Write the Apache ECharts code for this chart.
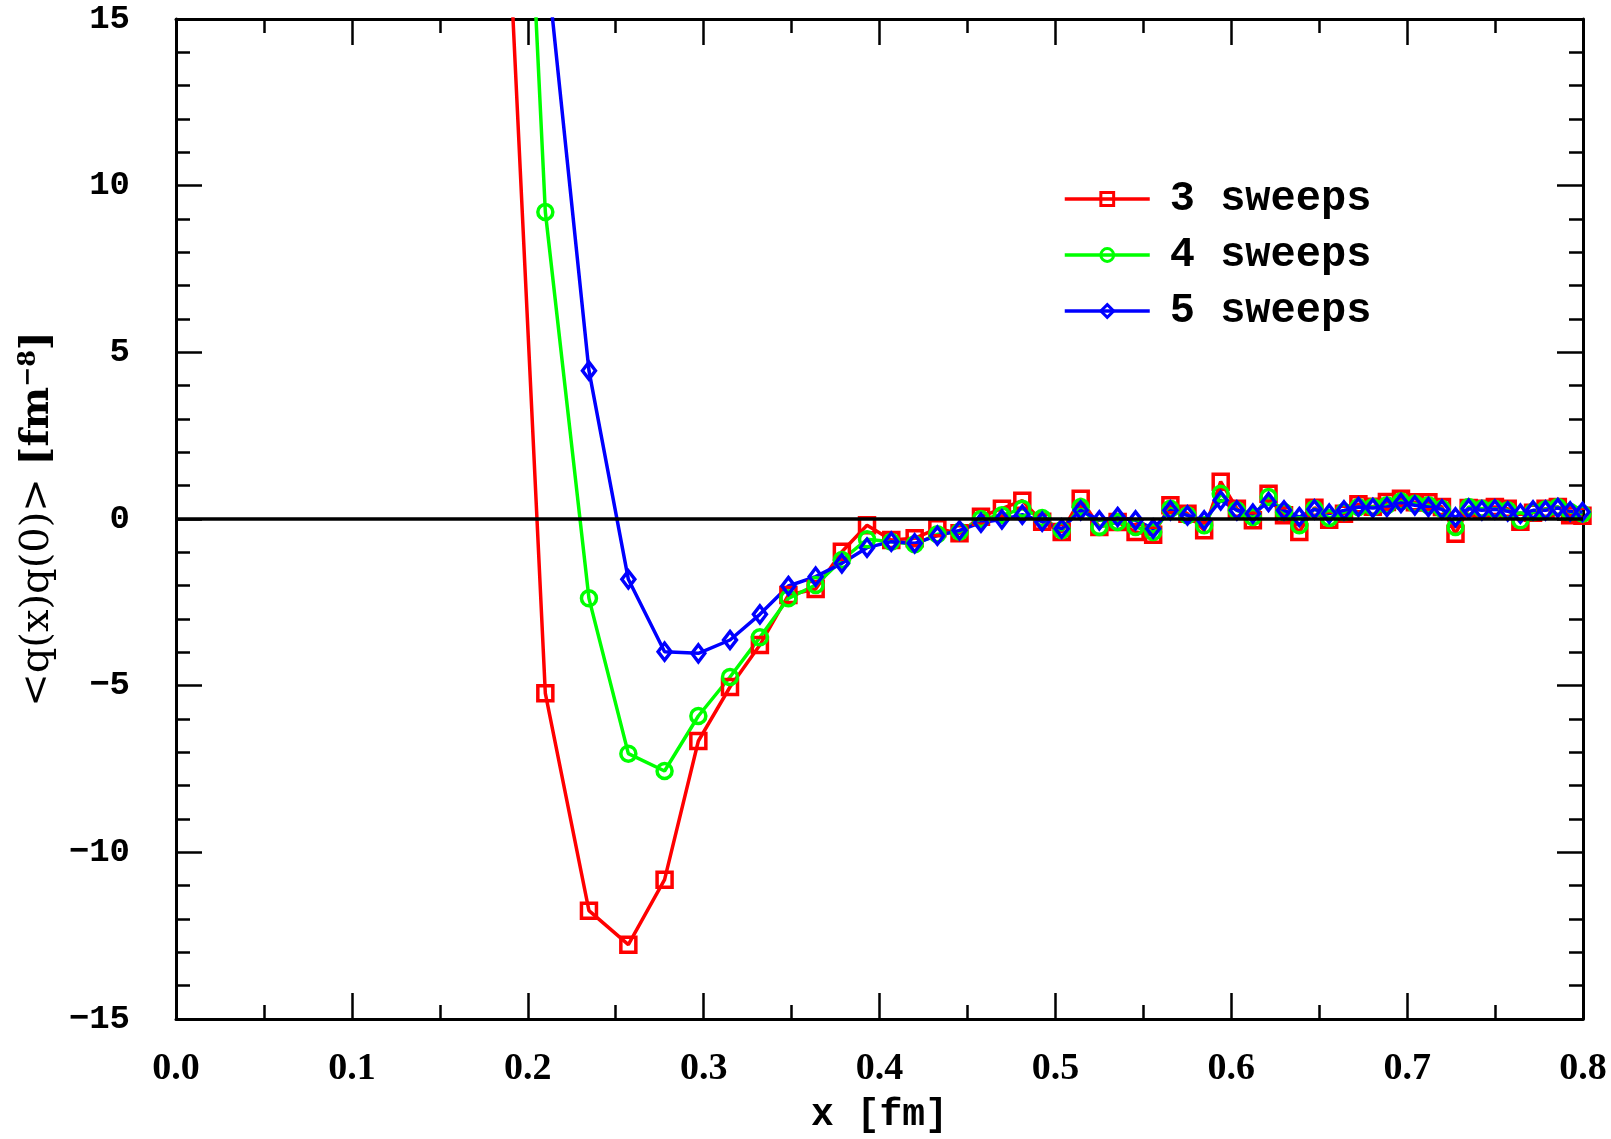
<!DOCTYPE html>
<html>
<head>
<meta charset="utf-8">
<script src="https://cdn.jsdelivr.net/npm/echarts@6/dist/echarts.min.js"></script>
<style>
html,body{margin:0;padding:0;background:#fff;}
#chart{width:1611px;height:1139px;}
</style>
</head>
<body>
<div id="chart"></div>
<script>
// x positions [fm]
const xValues = [0.1819,0.2100,0.2348,0.2572,0.2778,0.2970,0.3150,0.3320,0.3482,0.3637,0.3786,0.3929,0.4067,0.4200,
0.4329,0.4455,0.4577,0.4696,0.4812,0.4925,0.5036,0.5144,0.5250,0.5354,0.5456,0.5556,0.5654,0.5751,0.5846,0.5940,
0.6032,0.6123,0.6212,0.6300,0.6387,0.6473,0.6557,0.6641,0.6723,0.6805,0.6885,0.6965,0.7044,0.7121,0.7198,0.7275,
0.7350,0.7425,0.7499,0.7572,0.7644,0.7716,0.7787,0.7857,0.7927,0.7997];

const sweeps3 = [25.7,-5.23,-11.75,-12.77,-10.82,-6.66,-5.04,-3.78,-2.28,-2.10,-0.98,-0.19,-0.63,-0.58,
-0.28,-0.43,0.07,0.31,0.55,-0.08,-0.39,0.61,-0.24,-0.09,-0.39,-0.47,0.41,0.16,-0.34,1.12,
0.31,-0.04,0.76,0.11,-0.39,0.34,-0.02,0.16,0.44,0.37,0.51,0.61,0.50,0.50,0.36,-0.44,
0.33,0.31,0.36,0.31,-0.08,0.19,0.31,0.36,0.11,0.10];

const sweeps4 = [40.0,9.21,-2.38,-7.04,-7.56,-5.91,-4.74,-3.55,-2.38,-1.98,-1.23,-0.61,-0.68,-0.76,
-0.46,-0.38,0.00,0.11,0.31,0.03,-0.34,0.36,-0.24,-0.09,-0.24,-0.39,0.31,0.11,-0.19,0.76,
0.26,0.06,0.66,0.21,-0.19,0.31,0.03,0.21,0.36,0.36,0.41,0.53,0.46,0.41,0.31,-0.24,
0.36,0.31,0.31,0.26,-0.04,0.21,0.29,0.36,0.21,0.16];

const sweeps5 = [null,17.1,4.45,-1.81,-3.98,-4.03,-3.63,-2.86,-2.01,-1.73,-1.33,-0.86,-0.68,-0.73,
-0.50,-0.34,-0.11,-0.01,0.13,-0.08,-0.29,0.26,-0.04,0.06,-0.04,-0.29,0.26,0.11,-0.04,0.56,
0.26,0.16,0.51,0.26,0.06,0.29,0.16,0.26,0.36,0.33,0.36,0.48,0.41,0.36,0.29,0.05,
0.31,0.26,0.29,0.23,0.16,0.26,0.26,0.33,0.23,0.21];

const seriesNames = ['3 sweeps','4 sweeps','5 sweeps'];
const xAxisTitle = 'x [fm]';

const chart = echarts.init(document.getElementById('chart'), null, {renderer:'canvas'});

function pairs(ys){ return xValues.map((x,i)=>[x, ys[i]]); }

const axisLine = {show:true, onZero:false, lineStyle:{color:'#000', width:3}};
const majorTick = {show:true, inside:true, length:26, lineStyle:{color:'#000', width:2.5}};
const minorTickX = {show:true, splitNumber:2, length:14, lineStyle:{color:'#000', width:2.5}};
const minorTickY = {show:true, splitNumber:5, length:14, lineStyle:{color:'#000', width:2.5}};

function mkSeries(name, data, color, symbol, size){
  return {
    name: name, type:'line', data: pairs(data),
    symbol: symbol, symbolSize: size,
    lineStyle:{color:color, width:3.5},
    itemStyle:{color:'rgba(255,255,255,0)', borderColor:color, borderWidth:3.5},
    clip:true, animation:false
  };
}

const s1 = mkSeries(seriesNames[0], sweeps3, '#ff0000', 'rect', 15);
s1.markLine = {
  silent:true, symbol:['none','none'], animation:false,
  label:{show:false},
  lineStyle:{color:'#000', width:3.5, type:'solid'},
  data:[{yAxis:0}]
};
const s2 = mkSeries(seriesNames[1], sweeps4, '#00ff00', 'circle', 15);
const s3 = mkSeries(seriesNames[2], sweeps5, '#0000ff', 'diamond', [13,17]);

chart.setOption({
  backgroundColor:'#fff',
  animation:false,
  grid:{left:176, right:28, top:19, bottom:118, containLabel:false},
  legend:{
    orient:'vertical', left:1058, top:172,
    itemWidth:85, itemHeight:16, itemGap:12,
    data: seriesNames,
    lineStyle:{width:3.5},
    itemStyle:{borderWidth:3},
    textStyle:{fontFamily:'Liberation Mono', fontWeight:'bold', fontSize:42, color:'#000', lineHeight:44, padding:[0,0,0,15]}
  },
  xAxis:[{
    type:'value', min:0, max:0.8, interval:0.1, position:'bottom',
    axisLine:axisLine, axisTick:majorTick, minorTick:minorTickX, splitLine:{show:false},
    axisLabel:{margin:31, color:'#000', fontFamily:'Liberation Serif', fontWeight:'bold', fontSize:38,
      formatter:v=>v.toFixed(1)},
    name: xAxisTitle, nameLocation:'middle', nameGap:77,
    nameTextStyle:{fontFamily:'Liberation Mono', fontWeight:'bold', fontSize:38, color:'#000'}
  },{
    type:'value', min:0, max:0.8, interval:0.1, position:'top',
    axisLine:axisLine, axisTick:majorTick, minorTick:minorTickX, splitLine:{show:false},
    axisLabel:{show:false}
  }],
  yAxis:[{
    type:'value', min:-15, max:15, interval:5, position:'left',
    axisLine:axisLine, axisTick:majorTick, minorTick:minorTickY, splitLine:{show:false},
    axisLabel:{margin:46, color:'#000', fontFamily:'Liberation Mono', fontWeight:'bold', fontSize:34,
      formatter:v=> v<0 ? '\u2212'+Math.abs(v) : String(v)},
    name:'<q(x)q(0)> {b|[fm}{sup|\u22128}{b|]}', nameLocation:'middle', nameGap:114,
    nameTextStyle:{fontFamily:'DejaVu Serif', fontSize:40, color:'#000',
      rich:{
        b:{fontFamily:'DejaVu Serif', fontWeight:'bold', fontSize:40, color:'#000'},
        sup:{fontFamily:'DejaVu Serif', fontWeight:'bold', fontSize:24, color:'#000', padding:[0,0,18,0]}
      }}
  },{
    type:'value', min:-15, max:15, interval:5, position:'right',
    axisLine:axisLine, axisTick:majorTick, minorTick:minorTickY, splitLine:{show:false},
    axisLabel:{show:false}
  }],
  series:[s1, s2, s3]
});
</script>
</body>
</html>
